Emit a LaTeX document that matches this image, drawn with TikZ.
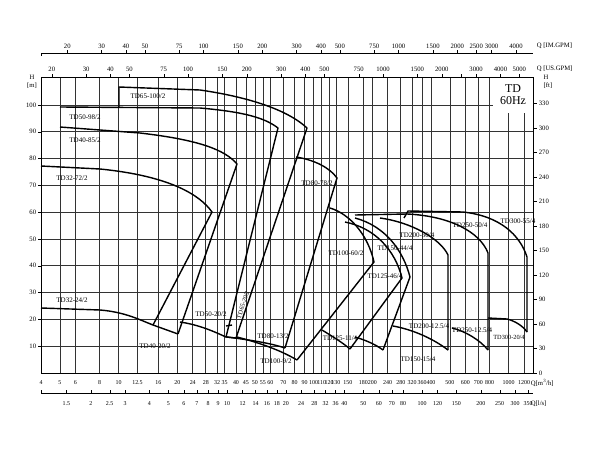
\documentclass[tikz,border=0pt]{standalone}
\usepackage{fontspec}
\setmainfont{Liberation Serif}
\tikzset{
  grid line/.style={black!80,line width=0.9pt},
  pump/.style={black,line width=2pt,line join=round},
  lbl/.style={font=\fontsize{10}{11}\selectfont,inner sep=0.5pt},
  tick/.style={font=\fontsize{9.5}{10}\selectfont,inner sep=1pt}
}
\newcommand\qx[1]{41+195*log10(#1/4)}
\begin{document}
\begin{tikzpicture}[x=0.05cm,y=-0.05cm]
  \useasboundingbox (0,0) rectangle (600,450);
  % vertical grid at Q [m3/h]
  \foreach \q in {5,6,8,10,12.5,16,20,24,28,32,35,40,45,50,55,60,70,80,90,100,110,120,130,150,180,200,240,280,320,360,400,500,600,700,800,1000,1200}
    \draw[grid line] ({\qx{\q}},77) -- ({\qx{\q}},373);
  % horizontal grid
  \foreach \h in {10,20,...,90}
    \draw[grid line] (41,{373-2.68*\h}) -- (533,{373-2.68*\h});
  \draw[grid line] (41,105) -- (493,105);
  \draw[line width=1pt] (41,77) rectangle (533,373);
  % Q [m3/h]
  \foreach \q in {4,5,6,8,10,12.5,16,20,24,28,32,35,40,45,50,55,60,70,80,90,100,110,120,130,150,180,200,240,280,320,360,400,500,600,700,800,1000,1200}
    \node[tick,font=\fontsize{8.5}{9}\selectfont] at ({\qx{\q}},383) {\q};
  \node[tick,anchor=west] at (530,383) {Q[m$^3$/h]};
  % Q [l/s]
  \draw (41,393) -- (533,393);
  \draw (41,393) -- (41,390);
  \foreach \l in {1.5,2,2.5,3,4,5,6,7,8,9,10,12,14,16,18,20,24,28,32,36,40,50,60,70,80,100,120,150,200,250,300,350}{
    \draw ({\qx{\l*3.6}},393) -- ({\qx{\l*3.6}},390);
    \node[tick,font=\fontsize{8.5}{9}\selectfont] at ({\qx{\l*3.6}},404) {\l};}
  \node[tick,anchor=west] at (530,404) {Q[l/s]};
  % Q [US.GPM]
  \foreach \g in {20,30,40,50,75,100,150,200,300,400,500,750,1000,1500,2000,3000,4000,5000}{
    \draw ({\qx{\g/4.403}},77) -- ({\qx{\g/4.403}},74);
    \node[tick] at ({\qx{\g/4.403}},69) {\g};}
  \draw ({\qx{2500/4.403}},77) -- ({\qx{2500/4.403}},74);
  \node[tick,anchor=west] at (536,69) {Q [US.GPM]};
  % Q [IM.GPM]
  \draw (41,53) -- (533,53);
  \draw (41,53) -- (41,56);
  \foreach \g in {20,30,40,50,75,100,150,200,300,400,500,750,1000,1500,2000,2500,3000,4000}{
    \draw ({\qx{\g/3.666}},53) -- ({\qx{\g/3.666}},50);
    \node[tick] at ({\qx{\g/3.666}},46) {\g};}
  \node[tick,anchor=west] at (536,46) {Q [IM.GPM]};
  % H axes
  \foreach \h in {10,20,...,100}{
    \draw (41,{373-2.68*\h}) -- (38,{373-2.68*\h});
    \node[tick,anchor=east] at (37,{373-2.68*\h}) {\h};}
  \node[tick] at (32,77) {H};
  \node[tick] at (32,86) {[m]};
  \foreach \f in {0,30,...,330}{
    \draw (533,{373-0.8169*\f}) -- (537,{373-0.8169*\f});
    \node[tick,anchor=west] at (538,{373-0.8169*\f}) {\f};}
  \node[tick] at (546,77) {H};
  \node[tick] at (548,86) {[ft]};
  \fill[white] (493,78) rectangle (532,113);
  \node[font=\fontsize{17}{17}\selectfont,align=center,inner sep=0pt]
        (brand) at (513,95) {TD\\60Hz};
  % 2-pole pumps
  \draw[pump] (41,166) -- (100,169) .. controls (170,176) and (200,195) .. (212,212)
              -- (153,325);
  \draw[pump] (41,308) -- (100,310) .. controls (125,312) and (140,320) .. (153,325)
              -- (178,334);
  \draw[pump] (60,127) -- (140,133) .. controls (200,140) and (225,150) .. (237,164)
              -- (178,334);
  \draw[pump] (180,322) .. controls (200,325) and (215,332) .. (226,337);
  \draw[pump] (60,107) -- (200,108) .. controls (245,112) and (265,118) .. (278,128)
              -- (226,337) -- (236,338);
  \draw[pump] (119,107) -- (119,87) -- (200,90) .. controls (255,98) and (290,112) .. (307,128)
              -- (236,338);
  \draw[pump] (226,326) -- (232,325);
  \draw[pump] (296,157) .. controls (315,160) and (330,168) .. (337,178) -- (285,348);
  \draw[pump] (227,337) .. controls (250,340) and (270,343) .. (285,348);
  \draw[pump] (330,208) .. controls (350,214) and (368,235) .. (374,262) -- (297,360);
  \draw[pump] (237,337) .. controls (260,343) and (280,350) .. (297,360);
  % 4-pole pumps
  \draw[pump] (345,222) .. controls (375,228) and (395,250) .. (402,278) -- (350,349);
  \draw[pump] (322,330) .. controls (335,338) and (343,343) .. (350,349);
  \draw[pump] (355,218) .. controls (385,226) and (403,250) .. (410,277) -- (383,350);
  \draw[pump] (355,337) .. controls (365,340) and (375,344) .. (383,350);
  \draw[pump] (380,218) .. controls (410,222) and (440,238) .. (448,255) -- (448,350);
  \draw[pump] (393,326) .. controls (415,330) and (435,340) .. (448,350);
  \draw[pump] (355,215) -- (407,214)
              .. controls (450,216) and (480,232) .. (488,253) -- (488,350);
  \draw[pump] (452,328) .. controls (465,331) and (480,340) .. (488,350);
  \draw[pump] (404,218) -- (408,211) -- (463,212) .. controls (500,216) and (520,235) .. (527,257)
              -- (527,332);
  \draw[pump] (488,318) -- (507,319) .. controls (515,321) and (523,326) .. (527,332);
  % labels
  \node[lbl] at (148,96) {TD65-100/2};
  \node[lbl] at (85,117) {TD50-98/2};
  \node[lbl] at (85,140) {TD40-85/2};
  \node[lbl] at (72,178) {TD32-72/2};
  \node[lbl] at (72,300) {TD32-24/2};
  \node[lbl] at (155,346) {TD40-20/2};
  \node[lbl] at (211,314) {TD50-20/2};
  \node[lbl,rotate=72,font=\fontsize{9}{9}\selectfont] at (243,305) {TD65-20/2};
  \node[lbl] at (273,336) {TD80-13/2};
  \node[lbl] at (276,361) {TD100-9/2};
  \node[lbl] at (317,183) {TD80-78/2};
  \node[lbl] at (346,253) {TD100-60/2};
  \node[lbl] at (385,276) {TD125-46/4};
  \node[lbl] at (395,248) {TD150-44/4};
  \node[lbl] at (417,235) {TD200-50/4};
  \node[lbl] at (470,225) {TD250-50/4};
  \node[lbl] at (518,221) {TD300-55/4};
  \node[lbl] at (340,338) {TD125-11/4};
  \node[lbl] at (418,359) {TD150-15/4};
  \node[lbl] at (429,326) {TD200-12.5/4};
  \node[lbl] at (472,330) {TD250-12.5/4};
  \node[lbl,font=\fontsize{9}{9}\selectfont] at (509,337) {TD300-20/4};
\end{tikzpicture}
\end{document}
